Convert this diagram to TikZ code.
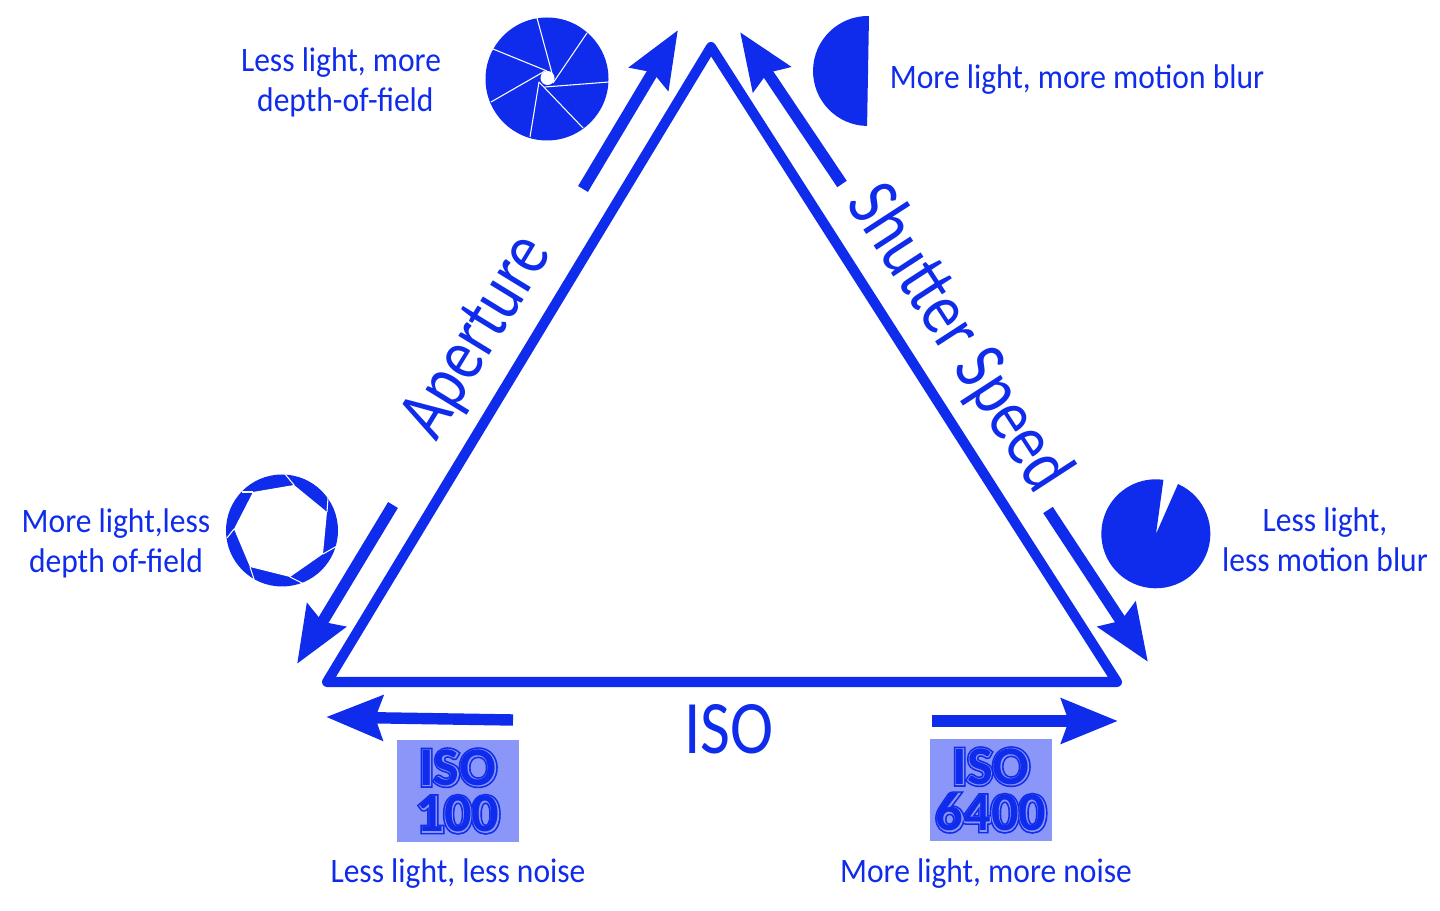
\documentclass[tikz,border=0pt]{standalone}
\usepackage{fontspec}
\setmainfont{Carlito}
\usepackage{tikz}
\usetikzlibrary{ arrows.meta, % For the big arrow heads
               }
\definecolor{lensblue}{HTML}{0F2BEB}
\definecolor{badgeblue}{HTML}{8A96F8}
\newcommand{\inlinetext}[1]{%
  \rlap{\textcolor{lensblue}{\addfontfeature{FakeBold=9}#1}}%
  \rlap{\textcolor{badgeblue}{\addfontfeature{FakeBold=3}#1}}%
  \textcolor{lensblue}{#1}}
\tikzset{
  side/.style={draw=lensblue, line width=5.7pt, line join=round},
  move/.style={draw=lensblue, line width=6.5pt, -{Stealth[length=32pt,width=25pt,inset=4pt]}},
  note/.style={text=lensblue, font=\fontsize{19.5}{22.8}\selectfont\addfontfeature{FakeStretch=0.92}, align=center, inner sep=0pt},
  title/.style={text=lensblue, font=\fontsize{43}{46}\selectfont\addfontfeature{FakeStretch=0.86}, inner sep=0pt},
  sidetitle/.style={title, font=\fontsize{43}{46}\selectfont\addfontfeature{FakeStretch=0.81}},
  badge/.style={fill=badgeblue, minimum width=2.44cm, minimum height=2.06cm, inner sep=0pt, align=center,
                font=\fontsize{31}{24.5}\selectfont\bfseries},
  blade/.style={draw=white, line width=0.6pt},
}
\begin{document}
\begin{tikzpicture}[x=0.02cm,y=-0.02cm]
    \useasboundingbox (0,0) rectangle (1440,911);
    % triangle
    \coordinate (apex) at (711,47);
    \coordinate (low) at (327,682);
    \coordinate (high) at (1117,682);
    \draw[side] (apex) -- (low) -- (high) -- cycle;
    % arrows
    \coordinate (aperturea) at (583,189);
    \coordinate (apertureb) at (678,30);
    \coordinate (aperturec) at (393,505);
    \coordinate (apertured) at (297,664);
    \coordinate (shuttera) at (842,184);
    \coordinate (shutterb) at (740,32);
    \coordinate (shutterc) at (1048,510);
    \coordinate (shutterd) at (1148,662);
    \coordinate (isoa) at (513,720);
    \coordinate (isob) at (326,717);
    \coordinate (isoc) at (932,721);
    \coordinate (isod) at (1118,721);
    \draw[move] (aperturea) -- (apertureb);
    \draw[move] (aperturec) -- (apertured);
    \draw[move] (shuttera) -- (shutterb);
    \draw[move] (shutterc) -- (shutterd);
    \draw[move] (isoa) -- (isob);
    \draw[move] (isoc) -- (isod);
    % titles
    \node[sidetitle, rotate=58.5] (aperture) at (479,338) {Aperture};
    \node[sidetitle, rotate=-57] (shutter) at (958,339) {Shutter Speed};
    \node[title] (iso) at (729,729) {ISO};
    % notes
    \node[note] (notea) at (341,82) {Less light, more\\\hspace*{5pt}depth-of-field};
    \node[note] (noteb) at (1077,80) {More light, more motion blur};
    \node[note] (notec) at (116,543) {More light,less\\depth of-field};
    \node[note] (noted) at (1325,540) {Less light,\\less motion blur};
    \node[note] (notee) at (458,874) {Less light, less noise};
    \node[note] (notef) at (986,874) {More light, more noise};
    % badges
    \node[badge] (isolow) at (458,791) {\inlinetext{ISO}\\[2pt]\inlinetext{100}};
    \node[badge] (isohigh) at (991,790) {\inlinetext{ISO}\\[2pt]\inlinetext{6400}};
    % small aperture
    \fill[lensblue] (547,79) circle (61.5);
    \draw[blade] (537,18) -- (553,77);
    \draw[blade] (587,33) -- (553,83);
    \draw[blade] (609,82) -- (545,87);
    \draw[blade] (583,128) -- (539,82);
    \draw[blade] (530,137) -- (539,82);
    \draw[blade] (491,102) -- (545,71);
    \draw[blade] (493,49) -- (547,71);
    \fill[white] (547.5,78) circle (7);
    % wide aperture
    \fill[lensblue] (282,530.5) circle (56);
    \fill[white] (253,492) -- (294,485) -- (327,512) -- (323,554) -- (290,577) -- (250,567) -- (234,529) -- cycle;
    \draw[blade] (253,492) -- (242,492);
    \draw[blade] (294,485) -- (285,474);
    \draw[blade] (327,512) -- (328,498);
    \draw[blade] (323,554) -- (337,546);
    \draw[blade] (290,577) -- (302,583);
    \draw[blade] (250,567) -- (254,579);
    \draw[blade] (234,529) -- (227,538);
    % slow shutter
    \fill[lensblue] (869,16) arc[start angle=-89, delta angle=-180, radius=55] -- cycle;
    % fast shutter
    \fill[lensblue] (1156,534) -- (1178,484) arc[start angle=-66, delta angle=344, radius=54.5] -- cycle;
\end{tikzpicture}
\end{document}
